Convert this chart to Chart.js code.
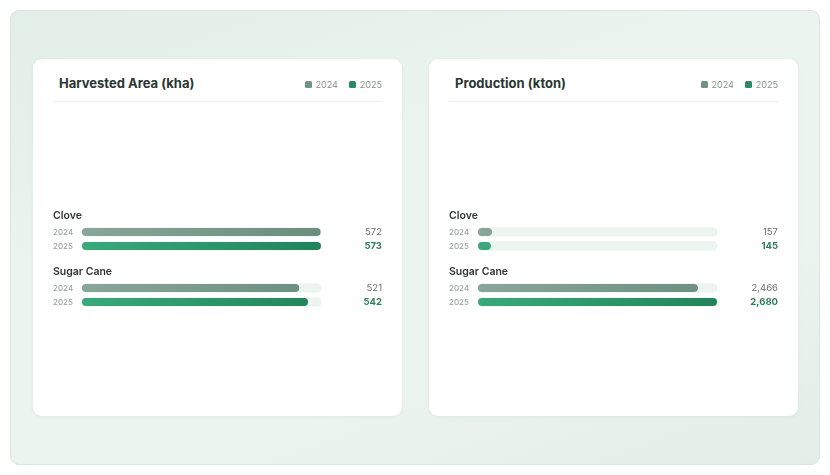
<!DOCTYPE html>
<html lang="en">
<head>
  <meta charset="UTF-8">
  <title>Harvested Area and Production</title>
  <style>
    body {
      margin: 0;
      width: 830px;
      height: 475px;
      background: #ffffff;
      font-family: 'Inter', 'Noto Sans', sans-serif;
      overflow: hidden;
    }
    .panel {
      position: absolute;
      left: 10px;
      top: 10px;
      width: 808px;
      height: 453px;
      border: 1px solid #d9e6e0;
      border-radius: 9px;
      background: linear-gradient(160deg, #e2eee8 0%, #ebf4ef 35%, #ebf4ef 70%, #e3eee9 100%);
    }
    .card {
      position: absolute;
      top: 48px;
      width: 369px;
      height: 357px;
      background: #fff;
      border-radius: 9px;
      box-shadow: 0 1px 4px rgba(40, 80, 60, 0.06);
    }
    .card h2 {
      position: absolute;
      left: 26px;
      top: 16px;
      margin: 0;
      font-size: 13px;
      font-weight: 700;
      color: #2a3631;
    }
    .legend {
      position: absolute;
      right: 20px;
      top: 20px;
      font-size: 9px;
      color: #8c9691;
      display: flex;
      gap: 11px;
    }
    .legend span { display: flex; align-items: center; }
    .legend i {
      display: inline-block;
      width: 7px;
      height: 7px;
      border-radius: 1.5px;
      margin-right: 4px;
    }
    .divider {
      position: absolute;
      left: 20px;
      right: 20px;
      top: 42px;
      height: 1px;
      background: #edf2ef;
    }
    .chart-box {
      position: absolute;
      left: 20px;
      top: 140px;
      width: 329px;
      height: 135px;
    }
  </style>
</head>
<body>
  <div class="panel">
    <div class="card" style="left: 22px;">
      <h2>Harvested Area (kha)</h2>
      <div class="legend">
        <span><i style="background:#6f9484"></i>2024</span>
        <span><i style="background:#2b8a63"></i>2025</span>
      </div>
      <div class="divider"></div>
      <div class="chart-box"><canvas id="areaChart"></canvas></div>
    </div>
    <div class="card" style="left: 418px;">
      <h2>Production (kton)</h2>
      <div class="legend">
        <span><i style="background:#6f9484"></i>2024</span>
        <span><i style="background:#2b8a63"></i>2025</span>
      </div>
      <div class="divider"></div>
      <div class="chart-box"><canvas id="prodChart"></canvas></div>
    </div>
  </div>

  <script src="https://cdn.jsdelivr.net/npm/chart.js"></script>
  <script>
    const categories = ['Clove', 'Sugar Cane'];
    const years = ['2024', '2025'];
    const area2024 = [572, 521];
    const area2025 = [573, 542];
    const prod2024 = [157, 2466];
    const prod2025 = [145, 2680];

    const gradients = {
      '2024': ['#88a699', '#6b8e7e'],
      '2025': ['#3aa97c', '#23835b']
    };

    function barGradient(year) {
      return function(ctx) {
        const area = ctx.chart.chartArea;
        if (!area) return gradients[year][1];
        const g = ctx.chart.ctx.createLinearGradient(area.left, 0, area.right, 0);
        g.addColorStop(0, gradients[year][0]);
        g.addColorStop(1, gradients[year][1]);
        return g;
      };
    }

    function roundRect(c, x, y, w, h, r) {
      c.beginPath();
      c.moveTo(x + r, y);
      c.lineTo(x + w - r, y);
      c.arcTo(x + w, y, x + w, y + r, r);
      c.lineTo(x + w, y + h - r);
      c.arcTo(x + w, y + h, x + w - r, y + h, r);
      c.lineTo(x + r, y + h);
      c.arcTo(x, y + h, x, y + h - r, r);
      c.lineTo(x, y + r);
      c.arcTo(x, y, x + r, y, r);
      c.closePath();
    }

    // tracks behind the bars, labels and values around them
    const rowDecor = {
      id: 'rowDecor',
      beforeDatasetsDraw(chart) {
        const c = chart.ctx;
        const area = chart.chartArea;
        c.save();
        chart.data.datasets.forEach((ds, di) => {
          chart.getDatasetMeta(di).data.forEach(bar => {
            const h = bar.height;
            roundRect(c, area.left, bar.y - h / 2, area.right - area.left, h, h / 2);
            c.fillStyle = '#eef5f1';
            c.fill();
            c.strokeStyle = '#e6efea';
            c.lineWidth = 0.8;
            c.stroke();
          });
        });
        c.restore();
      },
      afterDatasetsDraw(chart) {
        const c = chart.ctx;
        const yScale = chart.scales.y;
        const width = chart.width;
        c.save();
        c.textBaseline = 'middle';
        chart.data.labels.forEach((label, i) => {
          const cy = yScale.getPixelForValue(i);
          c.font = '600 10.5px Inter, sans-serif';
          c.fillStyle = '#2d3632';
          c.textAlign = 'left';
          c.fillText(label, 0, cy - 23);
        });
        chart.data.datasets.forEach((ds, di) => {
          chart.getDatasetMeta(di).data.forEach((bar, i) => {
            c.textAlign = 'left';
            c.font = '500 8px Inter, sans-serif';
            c.fillStyle = '#9aa39f';
            c.fillText(ds.label, 0, bar.y + 0.5);
            c.textAlign = 'right';
            if (di === 1) {
              c.font = '700 9.5px Inter, sans-serif';
              c.fillStyle = '#2f7c59';
            } else {
              c.font = '400 9.5px Inter, sans-serif';
              c.fillStyle = '#6a6f6d';
            }
            c.fillText(ds.data[i].toLocaleString('en-US'), width, bar.y + 0.5);
          });
        });
        c.restore();
      }
    };

    function makeChart(id, data2024, data2025) {
      const maxVal = Math.max(...data2024, ...data2025);
      return new Chart(document.getElementById(id), {
        type: 'bar',
        data: {
          labels: categories,
          datasets: [
            { label: years[0], data: data2024, backgroundColor: barGradient('2024') },
            { label: years[1], data: data2025, backgroundColor: barGradient('2025') }
          ]
        },
        options: {
          indexAxis: 'y',
          responsive: true,
          maintainAspectRatio: false,
          animation: false,
          categoryPercentage: 0.5,
          barPercentage: 0.58,
          borderRadius: 4,
          borderSkipped: false,
          layout: { padding: { left: 29, right: 61, top: 12, bottom: 11 } },
          plugins: {
            legend: { display: false },
            tooltip: { enabled: false }
          },
          scales: {
            x: { display: false, min: 0, max: maxVal },
            y: { display: false }
          }
        },
        plugins: [rowDecor]
      });
    }

    makeChart('areaChart', area2024, area2025);
    makeChart('prodChart', prod2024, prod2025);
  </script>
</body>
</html>
